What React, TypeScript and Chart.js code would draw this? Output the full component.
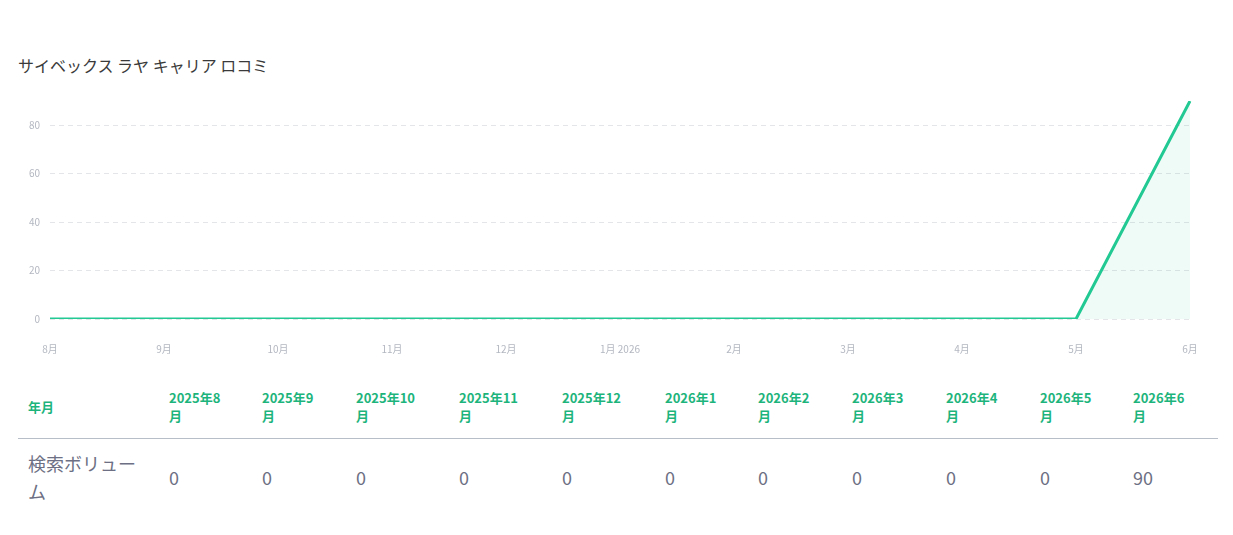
import React, { useEffect, useRef } from "react";
import { Chart, registerables } from "chart.js";

Chart.register(...registerables);

const TITLE = "サイベックス ラヤ キャリア ロコミ";
const axisLabels = ["8月", "9月", "10月", "11月", "12月", "1月 2026", "2月", "3月", "4月", "5月", "6月"];
const tableYears = ["2025", "2025", "2025", "2025", "2025", "2026", "2026", "2026", "2026", "2026", "2026"];
const tableMonths = ["8", "9", "10", "11", "12", "1", "2", "3", "4", "5", "6"];
const volumes = [0, 0, 0, 0, 0, 0, 0, 0, 0, 0, 90];
const yTicks = [0, 20, 40, 60, 80];
const rowHeader = "年月";
const rowLabel = "検索ボリューム";

const colWidths = [141, 93, 94, 103, 103, 103, 93, 94, 94, 94, 93, 95];

const FONT = '"Noto Sans CJK JP", "Noto Sans", sans-serif';
const LINE = "#22c993";
const GREEN_TEXT = "#1db47c";

export default function App() {
  const ref = useRef<HTMLCanvasElement | null>(null);

  useEffect(() => {
    if (!ref.current) return;
    const chart = new Chart(ref.current, {
      type: "line",
      data: {
        labels: axisLabels,
        datasets: [
          {
            data: volumes,
            borderColor: LINE,
            borderWidth: 3,
            backgroundColor: "rgba(34, 201, 147, 0.07)",
            fill: "origin",
            pointRadius: 0,
            pointHoverRadius: 0,
            tension: 0,
          },
        ],
      },
      options: {
        animation: false,
        responsive: true,
        maintainAspectRatio: false,
        layout: { padding: { top: 16, right: 25, bottom: 8, left: 0 } },
        plugins: { legend: { display: false }, tooltip: { enabled: false } },
        scales: {
          x: {
            offset: false,
            grid: { display: false },
            border: { display: false },
            ticks: {
              color: "#b3b7c0",
              font: { family: FONT, size: 10 },
              padding: 16,
              maxRotation: 0,
              autoSkip: false,
            },
          },
          y: {
            min: 0,
            max: 90,
            afterBuildTicks: (scale: any) => {
              scale.ticks = yTicks.map((v) => ({ value: v }));
            },
            afterFit: (scale: any) => {
              scale.width = 32;
            },
            grid: {
              color: "#e3e5e8",
              lineWidth: 1,
              drawTicks: false,
            },
            border: { display: false, dash: [5, 4] },
            ticks: {
              color: "#b3b7c0",
              font: { family: FONT, size: 10 },
              padding: 10,
            },
          },
        },
      },
    });
    return () => chart.destroy();
  }, []);

  const cellBase: React.CSSProperties = {
    padding: "10px 10px",
    textAlign: "left",
    verticalAlign: "middle",
  };

  return (
    <div style={{ padding: "0 10px", fontFamily: FONT }}>
      <div style={{ marginTop: 45, fontSize: 16, lineHeight: "24px", color: "#3a3a3a" }}>{TITLE}</div>
      <div style={{ position: "relative", height: 294, marginTop: 8 }}>
        <canvas ref={ref} />
      </div>
      <table
        style={{
          width: 1200,
          tableLayout: "fixed",
          borderCollapse: "collapse",
          marginTop: -3,
        }}
      >
        <colgroup>
          {colWidths.map((w, i) => (
            <col key={i} style={{ width: w }} />
          ))}
        </colgroup>
        <thead>
          <tr style={{ borderBottom: "1px solid #b8bec8" }}>
            <th style={{ ...cellBase, color: GREEN_TEXT, fontSize: 13, fontWeight: 700, lineHeight: "18px", padding: "13px 10px" }}>
              {rowHeader}
            </th>
            {tableMonths.map((m, i) => (
              <th
                key={i}
                style={{ ...cellBase, color: GREEN_TEXT, fontSize: 13, fontWeight: 700, lineHeight: "18px", padding: "13px 10px" }}
              >
                {tableYears[i]}年{m}
                <br />月
              </th>
            ))}
          </tr>
        </thead>
        <tbody>
          <tr>
            <td style={{ ...cellBase, color: "#6d7084", fontSize: 18, lineHeight: "28px" }}>
              {rowLabel.slice(0, 6)}
              <br />
              {rowLabel.slice(6)}
            </td>
            {volumes.map((v, i) => (
              <td key={i} style={{ ...cellBase, color: "#6d7084", fontSize: 18, lineHeight: "28px" }}>
                {v}
              </td>
            ))}
          </tr>
        </tbody>
      </table>
    </div>
  );
}
